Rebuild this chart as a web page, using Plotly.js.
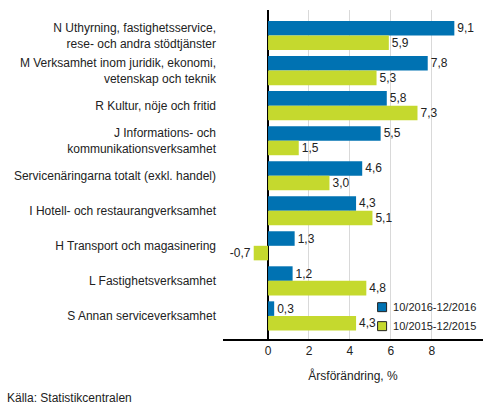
<!DOCTYPE html>
<html><head><meta charset="utf-8">
<script src="https://cdn.plot.ly/plotly-3.0.1.min.js"></script>
<style>html,body{margin:0;padding:0;background:#fff}#c{width:493px;height:416px}</style>
</head><body><div id="c"></div>
<script>
var categories = [
  "N Uthyrning, fastighetsservice,<br>rese- och andra stödtjänster",
  "M Verksamhet inom juridik, ekonomi,<br>vetenskap och teknik",
  "R Kultur, nöje och fritid",
  "J Informations- och<br>kommunikationsverksamhet",
  "Servicenäringarna totalt (exkl. handel)",
  "I Hotell- och restaurangverksamhet",
  "H Transport och magasinering",
  "L Fastighetsverksamhet",
  "S Annan serviceverksamhet"
];
var series2016 = [9.1, 7.8, 5.8, 5.5, 4.6, 4.3, 1.3, 1.2, 0.3];
var series2015 = [5.9, 5.3, 7.3, 1.5, 3.0, 5.1, -0.7, 4.8, 4.3];
var name2016 = "10/2016-12/2016";
var name2015 = "10/2015-12/2015";
var xTicks = [0, 2, 4, 6, 8];

function fmt(v){ return v.toFixed(1).replace('.', ','); }

var fam = "Liberation Sans, Arial, sans-serif";
var font = {family: fam, size: 12, color: "#222"};
var traces = [
  {type:'bar', orientation:'h', name:name2016, y:categories, x:series2016,
   marker:{color:'#0072b2'}, text:series2016.map(fmt), textposition:'outside',
   textfont:font, cliponaxis:false, hoverinfo:'none'},
  {type:'bar', orientation:'h', name:name2015, y:categories, x:series2015,
   marker:{color:'#c5d92e'}, text:series2015.map(fmt), textposition:'outside',
   textfont:font, cliponaxis:false, hoverinfo:'none'}
];
var layout = {
  width:493, height:416,
  margin:{l:223, r:10, t:10, b:77, autoexpand:false},
  paper_bgcolor:'#fff', plot_bgcolor:'#fff',
  font:font,
  barmode:'group', bargap:0.17, bargroupgap:0,
  showlegend:true,
  legend:{x:0.535, y:-0.005, xanchor:'left', yanchor:'bottom', bgcolor:'rgba(0,0,0,0)',
          font:{family:fam, size:11, color:'#222'}, tracegroupgap:0, itemwidth:30,
          borderwidth:0},
  xaxis:{range:[-2.2, 10.5], tickvals:xTicks, ticktext:xTicks.map(String),
         showgrid:true, gridcolor:'#d9d9d9', gridwidth:1,
         zeroline:true, zerolinecolor:'#000', zerolinewidth:1.5,
         showline:true, linecolor:'#000', linewidth:1.5, mirror:false,
         ticks:'', tickfont:{family:fam, size:12, color:'#222'},
         title:{text:'Årsförändring, %', font:{family:fam, size:12, color:'#222'}, standoff:14}},
  yaxis:{type:'category', range:[8.66, -0.73], showgrid:false, zeroline:false, showline:false,
         ticks:'', ticklabelstandoff:6, tickfont:{family:fam, size:12, color:'#222'}},
  annotations:[{text:'Källa: Statistikcentralen', xref:'paper', yref:'paper', x:-218/260, y:-0.18,
                xanchor:'left', yanchor:'middle', showarrow:false, font:{family:fam, size:12, color:'#222'}}]
};
Plotly.newPlot('c', traces, layout, {staticPlot:true, displayModeBar:false}).then(function(gd){
  gd.querySelectorAll('.legend .legendpoints path').forEach(function(p){
    p.setAttribute('d', 'M4.5,4.5H-4.5V-4.5H4.5Z');
    p.style.stroke = '#222';
    p.style.strokeWidth = '1px';
  });
  gd.querySelectorAll('.legend text.legendtext').forEach(function(t){
    var x = parseFloat(t.getAttribute('x')) || 40;
    t.setAttribute('x', x - 9);
  });
});
</script></body></html>
